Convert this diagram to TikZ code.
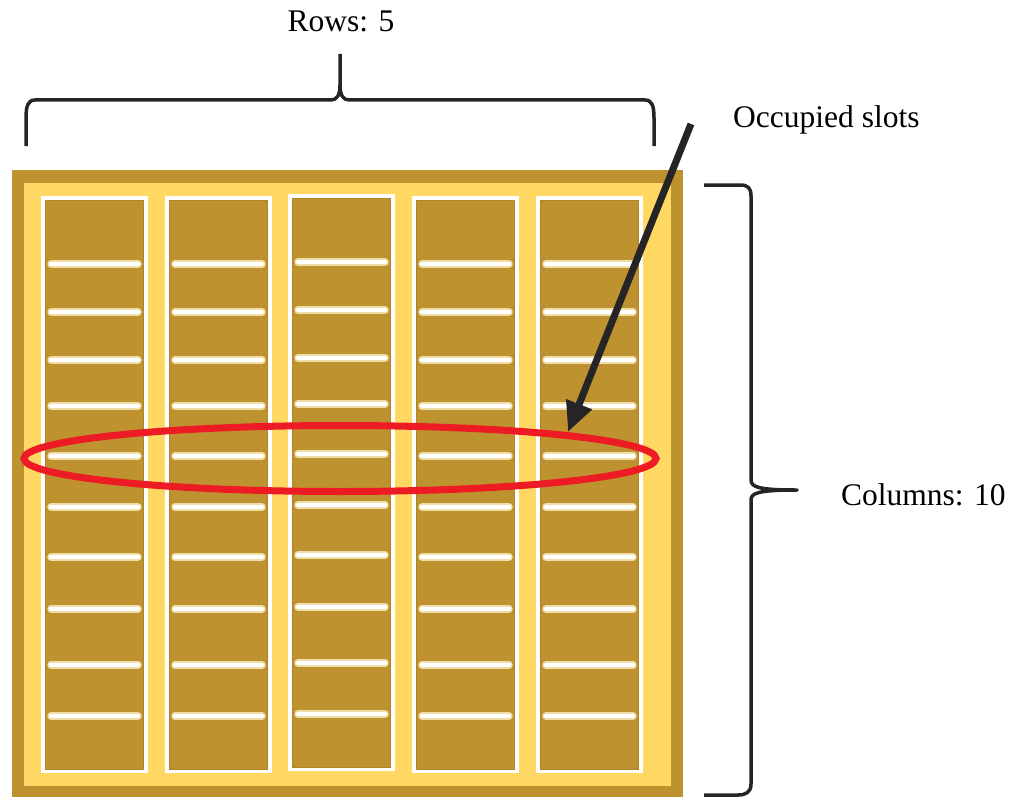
\documentclass[tikz,border=0pt]{standalone}
\usepackage{fontspec}
\setmainfont{Liberation Serif}
\usetikzlibrary{arrows.meta}
\definecolor{gold}{RGB}{191,146,48}
\definecolor{lightgold}{RGB}{255,216,100}
\definecolor{goldedge}{RGB}{176,132,38}
\definecolor{glowgold}{RGB}{240,222,170}
\definecolor{ringred}{RGB}{237,28,36}
\definecolor{ink}{RGB}{38,36,38}
\begin{document}
\begin{tikzpicture}[x=1pt,y=-1pt,
  lbl/.style={inner sep=0pt, font=\fontsize{31.5}{38}\selectfont},
  bracepath/.style={draw=ink, line width=3.5pt, line join=round},
  slotglow/.style={draw=glowgold, line width=7.5pt, line cap=round},
  slotline/.style={draw=white, line width=4.5pt, line cap=round},
  ring/.style={draw=ringred, line width=7pt},
  pointer/.style={draw=ink, fill=ink, line width=7pt, -{Triangle[length=30pt,width=26pt]}}]
\useasboundingbox (0,0) rectangle (1019,797);
% tray
\fill[gold] (12,170) rectangle (683,797);
\fill[lightgold] (24,183) rectangle (671,786);
% columns
\foreach \cx/\dy in {41/0,165/0,288/-2,412/0,536/0}{
  \fill[white] (\cx,196+\dy) rectangle (\cx+107,773+\dy);
  \filldraw[fill=gold, draw=goldedge, line width=1.2pt] (\cx+4.5,200.5+\dy) rectangle (\cx+102.5,769.5+\dy);
  \foreach \sy in {264,312,360,406,456,507,557,609,665,716}{
    \draw[slotglow] (\cx+10,\sy+\dy) -- (\cx+97,\sy+\dy);
    \draw[slotline] (\cx+10,\sy+\dy) -- (\cx+97,\sy+\dy);
  }
}
% red ring
\draw[ring] (340,458.5) ellipse [x radius=316pt, y radius=33pt];
% labels
\node[lbl, anchor=base] (rows) at (341,32) {Rows: 5};
\node[lbl, anchor=base west] (occ) at (733,128) {Occupied slots};
\node[lbl, anchor=base west] (cols) at (841,505) {Columns: 10};
% pointer arrow
\coordinate (ptail) at (691,124);
\coordinate (phead) at (568,432);
\draw[pointer] (ptail) -- (phead);
% top brace
\draw[bracepath] (26,146) -- (26,118) .. controls (26,106) and (28,100) .. (35,100)
  -- (331,100) .. controls (337,100) and (340,95) .. (340,85) -- (340,54)
  (340,85) .. controls (340,95) and (343,100) .. (349,100)
  -- (645,100) .. controls (652,100) and (654,106) .. (654,118) -- (654,146);
% right brace
\draw[bracepath] (704,185) -- (740,185) .. controls (748,185) and (751,188) .. (751,196)
  -- (751,480) .. controls (751,487) and (758,490) .. (797,490)
  .. controls (758,490) and (751,493) .. (751,500)
  -- (751,784) .. controls (751,792) and (746,795) .. (738,795) -- (704,795);
\end{tikzpicture}
\end{document}
